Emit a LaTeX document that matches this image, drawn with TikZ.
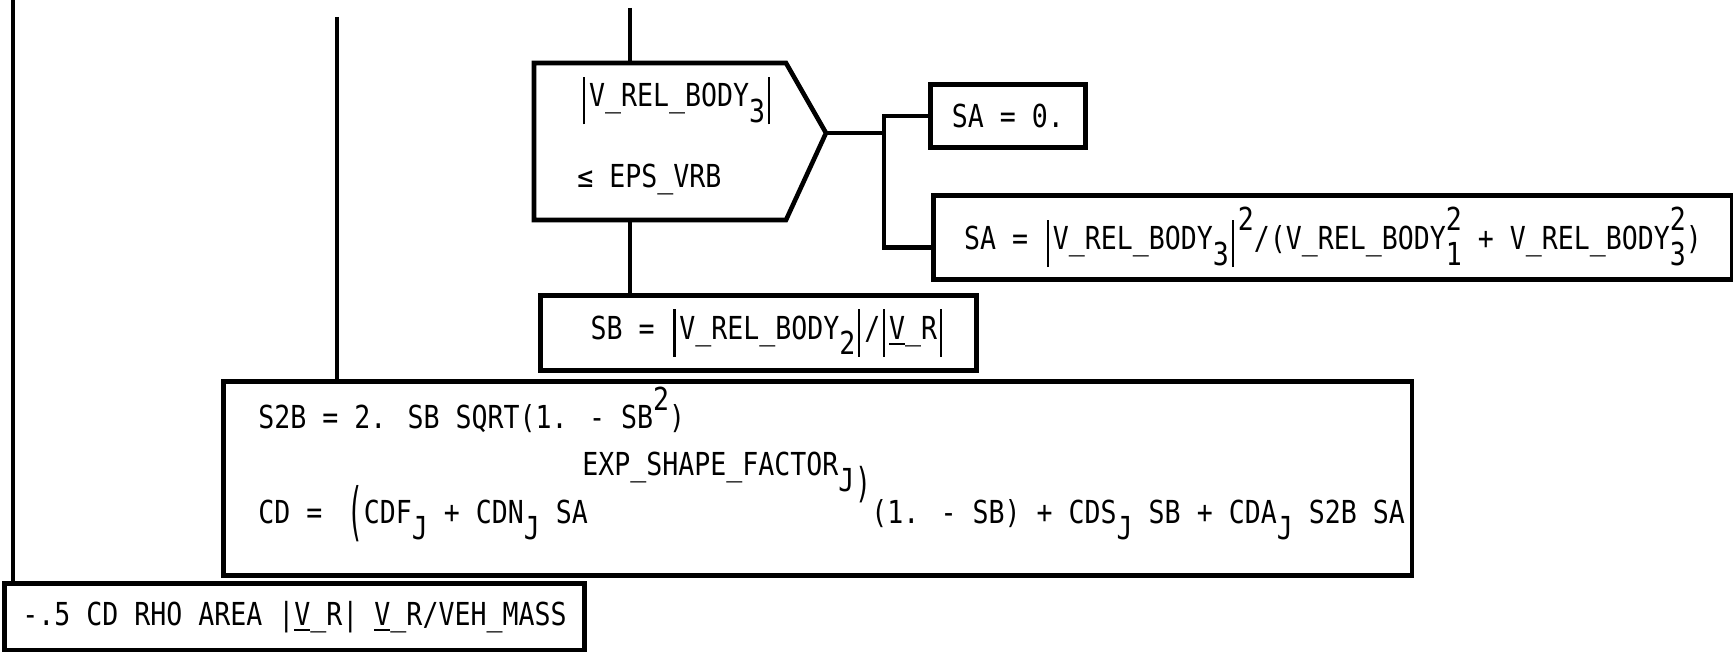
\documentclass[tikz,border=0pt]{standalone}
\usepackage{fontspec}
\setmainfont[FakeStretch=0.84]{DejaVu Sans Mono}
\usetikzlibrary{positioning}
\newcommand\lowr[1]{\raisebox{-0.5em}{#1}}
\newcommand\highr[1]{\raisebox{0.6em}{#1}}
\newcommand\hilo[2]{\rlap{\raisebox{0.6em}{#1}}\raisebox{-0.5em}{#2}}
\newcommand\absbar{\hspace{0.08em}\rule[-0.55em]{0.7pt}{1.5em}\hspace{0.12em}}
\tikzset{
  flowbox/.style={draw,rectangle,inner sep=0pt,anchor=north west},
  flowtext/.style={inner sep=0pt,anchor=base west},
}
\begin{document}
\begin{tikzpicture}[x=0.01cm,y=-0.01cm,line width=1.3pt,font=\fontsize{9}{11}\selectfont]
\useasboundingbox (0,0) rectangle (1733,652);

% boxes
\node [flowbox,minimum width=1.55cm,minimum height=0.63cm] (sazero) at (928,82) {SA = 0.};
\node [flowbox,minimum width=7.99cm,minimum height=0.84cm] (sabig) at (931,193)
  {SA = \absbar V\_REL\_BODY\lowr{3}\absbar\highr{2}/(V\_REL\_BODY\hilo{2}{1} + V\_REL\_BODY\hilo{2}{3})};
\node [flowbox,minimum width=4.36cm,minimum height=0.75cm] (sbbox) at (538,293)
  {\hspace{0.5em}SB = \absbar V\_REL\_BODY\lowr{2}\absbar/\absbar\underline{V}\_R\absbar};
\node [flowbox,minimum width=11.88cm,minimum height=1.94cm] (cdbox) at (221,379) {};
\node [flowbox,minimum width=5.80cm,minimum height=0.67cm] (accbox) at (2,581)
  {-.5 CD RHO AREA |\underline{V}\_R| \underline{V}\_R/VEH\_MASS};

% decision
\draw (534,63) -- (786,63) -- (826,133) -- (786,220) -- (534,220) -- cycle;
\coordinate (dtip) at (826,133);
\coordinate (dtop) at (630,63);
\coordinate (dbot) at (630,220);
\node [flowtext] (vrel) at (578,107) {\absbar V\_REL\_BODY\lowr{3}\absbar};
\node [flowtext] (eps) at (575,188) {≤ EPS\_VRB};

% texts of the CD box
\node [flowtext] (stwob) at (256,429) {S2B = 2. SB SQRT(1. - SB\highr{2})};
\node [flowtext] (expsf) at (580,476) {EXP\_SHAPE\_FACTOR\lowr{J}};
\node [flowtext] (cdleft) at (256,524)
  {CD = \hspace{0.3em}\raisebox{-0.3em}{\scalebox{1}[2.0]{(}}CDF\lowr{J} + CDN\lowr{J} SA};
\node [flowtext] (cdright) at (853,524)
  {\raisebox{0.85em}{\scalebox{1}[1.3]{)}}(1. - SB) + CDS\lowr{J} SB + CDA\lowr{J} S2B SA};

% flow lines
\coordinate (maintop) at (630,8);
\coordinate (fork) at (884,133);
\coordinate (lefttop) at (13,0);
\coordinate (midtop) at (337,17);
\draw (maintop) -- (dtop);
\draw (dbot) -- (dbot |- sbbox.north);
\draw (dtip) -- (fork);
\draw (sazero.west) -| (fork) |- ([yshift=-0.1cm]sabig.west);
\draw (lefttop) -- (lefttop |- accbox.north);
\draw (midtop) -- (midtop |- cdbox.north);

\end{tikzpicture}
\end{document}
